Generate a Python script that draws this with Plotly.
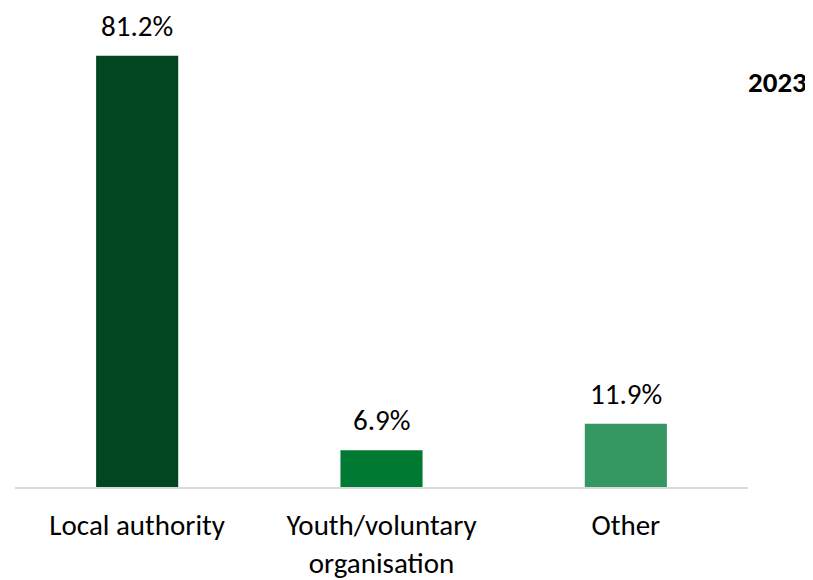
import plotly.graph_objects as go

CATEGORIES = ["Local authority", "Youth/voluntary<br>organisation", "Other"]
VALUES = [81.2, 6.9, 11.9]
BAR_COLOURS = ["#01461F", "#007A33", "#349660"]
YEAR = "2023"

FONT = "Calibri, Carlito, Lato, sans-serif"

fig = go.Figure()
fig.add_trace(go.Bar(
    x=CATEGORIES, y=VALUES,
    marker=dict(color=BAR_COLOURS, line=dict(width=0)),
    hoverinfo="skip",
))

# value labels above the bars
for cat, val in zip(CATEGORIES, VALUES):
    fig.add_annotation(
        x=cat, y=val, text=f"{val:.1f}%", showarrow=False,
        yanchor="bottom", yshift=10,
        font=dict(family=FONT, size=29, color="#000000"),
    )

fig.add_annotation(
    xref="paper", yref="paper", x=1.083, y=0.845,
    xanchor="right", yanchor="middle", text=f"<b>{YEAR}</b>",
    showarrow=False, font=dict(family=FONT, size=29, color="#000000"),
)

# page body has an 8px margin, so offsets are compensated here
fig.update_layout(
    width=813, height=572,
    plot_bgcolor="#ffffff",
    paper_bgcolor="#ffffff",
    font=dict(family=FONT, size=29, color="#000000"),
    margin=dict(l=7, r=73, t=0, b=93, pad=0),
    bargap=0.664,
    showlegend=False,
    xaxis=dict(
        showline=True, linecolor="#d9d9d9", linewidth=2,
        showgrid=False, ticks="outside", ticklen=11,
        tickcolor="rgba(0,0,0,0)", tickfont=dict(family=FONT, size=29),
    ),
    yaxis=dict(
        range=[0, 90.2], visible=False, showgrid=False, zeroline=False,
    ),
)

fig.write_html("out.html")
